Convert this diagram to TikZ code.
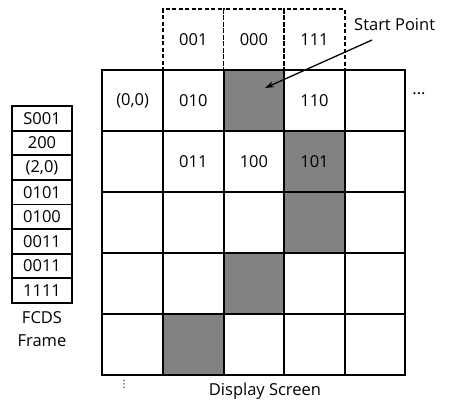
\documentclass[tikz,border=0pt]{standalone}
\usepackage{fontspec}
\setmainfont{Open Sans}
\newfontfamily\dejavu{DejaVu Sans}
\usetikzlibrary{arrows.meta}
\begin{document}
\begin{tikzpicture}[x=1pt,y=-1pt,
  txt/.style={font=\fontsize{16.5}{18}\selectfont},
  cell/.style={txt,draw=black,line width=2pt,minimum width=60.6pt,minimum height=61pt,inner sep=0pt,anchor=center},
  dcell/.style={txt,draw=black,dashed,dash pattern=on 4pt off 2.5pt,line width=1.6pt,minimum width=60.6pt,minimum height=61pt,inner sep=0pt},
  shade/.style={fill={rgb,255:red,130;green,130;blue,130}},
  fbox/.style={txt,draw=black,line width=1.8pt,minimum width=60pt,minimum height=24.6pt,inner sep=0pt},
  lbl/.style={txt,inner sep=0pt}]
\useasboundingbox (0,0) rectangle (449,399);
% dashed top row
\node[dcell] (t1) at (193.3,39.5) {001};
\node[dcell] (t2) at (253.9,39.5) {000};
\node[dcell] (t3) at (314.5,39.5) {111};
% grid
\node[cell] (c00) at (132.7,100.5) {(0,0)};
\node[cell] (c01) at (193.3,100.5) {010};
\node[cell,shade] (c02) at (253.9,100.5) {};
\node[cell] (c03) at (314.5,100.5) {110};
\node[cell] (c04) at (375.1,100.5) {};
\node[cell] (c10) at (132.7,161.5) {};
\node[cell] (c11) at (193.3,161.5) {011};
\node[cell] (c12) at (253.9,161.5) {100};
\node[cell,shade] (c13) at (314.5,161.5) {101};
\node[cell] (c14) at (375.1,161.5) {};
\node[cell] (c20) at (132.7,222.5) {};
\node[cell] (c21) at (193.3,222.5) {};
\node[cell] (c22) at (253.9,222.5) {};
\node[cell,shade] (c23) at (314.5,222.5) {};
\node[cell] (c24) at (375.1,222.5) {};
\node[cell] (c30) at (132.7,283.5) {};
\node[cell] (c31) at (193.3,283.5) {};
\node[cell,shade] (c32) at (253.9,283.5) {};
\node[cell] (c33) at (314.5,283.5) {};
\node[cell] (c34) at (375.1,283.5) {};
\node[cell] (c40) at (132.7,344.5) {};
\node[cell,shade] (c41) at (193.3,344.5) {};
\node[cell] (c42) at (253.9,344.5) {};
\node[cell] (c43) at (314.5,344.5) {};
\node[cell] (c44) at (375.1,344.5) {};
\node[lbl] (dots) at (419,94) {...};
\node[inner sep=0pt,font=\dejavu\fontsize{10}{10}\selectfont] (vdots) at (124,384) {⋮};
\node[lbl] (ds) at (265,391) {Display Screen};
% start point
\node[lbl,anchor=west] (sp) at (354,25) {Start Point};
\coordinate (spa) at (372,40);
\draw[line width=1.3pt,-{Stealth[length=9pt,width=6pt]}] (spa) -- (265,88);
% FCDS frame
\node[fbox] (f1) at (42,118.3) {S001};
\node[fbox] (f2) at (42,142.9) {200};
\node[fbox] (f3) at (42,167.5) {(2,0)};
\node[fbox] (f4) at (42,192.1) {0101};
\node[fbox] (f5) at (42,216.7) {0100};
\node[fbox] (f6) at (42,241.3) {0011};
\node[fbox] (f7) at (42,265.9) {0011};
\node[fbox] (f8) at (42,290.5) {1111};
\node[lbl] (fc) at (42,318) {FCDS};
\node[lbl] (fr) at (42,341) {Frame};
\end{tikzpicture}
\end{document}
